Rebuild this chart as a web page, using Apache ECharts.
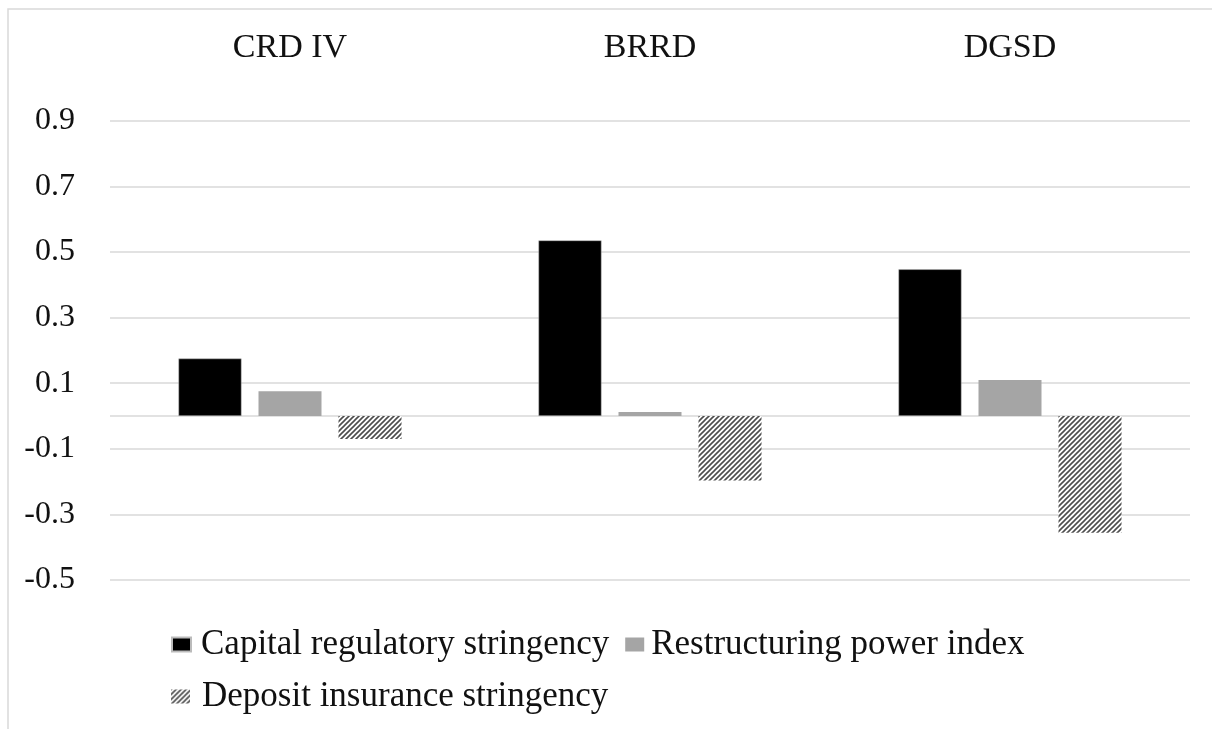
<!DOCTYPE html>
<html>
<head>
<meta charset="utf-8">
<script src="https://cdn.jsdelivr.net/npm/echarts@6/dist/echarts.min.js"></script>
<style>
html,body{margin:0;padding:0;background:#fff;}
#chart{width:1212px;height:729px;}
</style>
</head>
<body>
<div id="chart"></div>
<script>
const categories = ['CRD IV', 'BRRD', 'DGSD'];
const capitalStringency = [0.175, 0.535, 0.447];
const restructuringPower = [0.075, 0.012, 0.11];
const depositInsurance = [-0.07, -0.197, -0.356];
const tickLabels = [-0.5, -0.3, -0.1, 0.1, 0.3, 0.5, 0.7, 0.9];
const gridValues = [-0.5, -0.3, -0.1, 0, 0.1, 0.3, 0.5, 0.7, 0.9];
const seriesNames = ['Capital regulatory stringency', 'Restructuring power index', 'Deposit insurance stringency'];

function hatch() {
  const c = document.createElement('canvas');
  const s = 5;
  c.width = s; c.height = s;
  const g = c.getContext('2d');
  g.fillStyle = '#ffffff';
  g.fillRect(0, 0, s, s);
  g.strokeStyle = '#4d4d4d';
  g.lineWidth = 1.6;
  g.beginPath();
  g.moveTo(-1, s + 1); g.lineTo(s + 1, -1);
  g.moveTo(-1, 1); g.lineTo(1, -1);
  g.moveTo(s - 1, s + 1); g.lineTo(s + 1, s - 1);
  g.stroke();
  return { image: c, repeat: 'repeat' };
}

const font = 'Liberation Serif';
const legendBase = {
  left: 171, padding: 0, itemWidth: 19, itemHeight: 14, itemGap: 16, icon: 'rect',
  textStyle: { fontFamily: font, fontSize: 35, color: '#111' }
};
const chart = echarts.init(document.getElementById('chart'), null, { renderer: 'canvas' });
chart.setOption({
  animation: false,
  backgroundColor: '#fff',
  graphic: [{
    type: 'rect', shape: { x: 8, y: 9, width: 1400, height: 900 },
    style: { fill: 'none', stroke: '#d9d9d9', lineWidth: 1.5 }, silent: true, z: -10
  }],
  grid: { left: 110, right: 22, top: 120.7, bottom: 149 },
  legend: [
    Object.assign({}, legendBase, {
      top: 627,
      data: [
        { name: seriesNames[0], textStyle: { padding: [0, 0, 0, 5] } },
        { name: seriesNames[1], textStyle: { padding: [0, 0, 0, 2] } }
      ]
    }),
    Object.assign({}, legendBase, {
      top: 679,
      data: [
        { name: seriesNames[2], textStyle: { padding: [0, 0, 0, 7] } }
      ]
    })
  ],
  xAxis: {
    type: 'category', data: categories, position: 'top',
    axisLine: { show: false }, axisTick: { show: false },
    axisLabel: { fontFamily: font, fontSize: 34, color: '#111', margin: 56 },
    splitLine: { show: false }
  },
  yAxis: {
    type: 'value', min: -0.5, max: 0.9,
    axisLine: { show: false },
    axisTick: { show: false, customValues: gridValues },
    axisLabel: {
      customValues: tickLabels, fontFamily: font, fontSize: 32, color: '#111', margin: 35,
      formatter: v => v.toFixed(1)
    },
    splitLine: { show: true, lineStyle: { color: '#d9d9d9', width: 1.5 } }
  },
  series: [
    { name: seriesNames[0], type: 'bar', data: capitalStringency,
      barWidth: 63, barGap: '27%', itemStyle: { color: '#000', borderColor: '#bbb', borderWidth: 0.5 } },
    { name: seriesNames[1], type: 'bar', data: restructuringPower,
      barWidth: 63, itemStyle: { color: '#a5a5a5' } },
    { name: seriesNames[2], type: 'bar', data: depositInsurance,
      barWidth: 63, itemStyle: { color: hatch() } }
  ]
});
</script>
</body>
</html>
